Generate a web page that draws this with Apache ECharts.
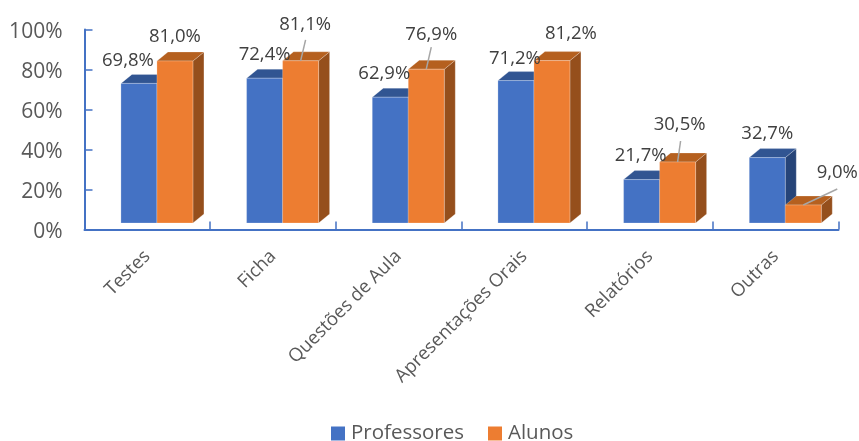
<!DOCTYPE html>
<html lang="pt">
<head>
<meta charset="UTF-8">
<title>Professores e Alunos</title>
<script src="https://cdn.jsdelivr.net/npm/echarts@6/dist/echarts.min.js"></script>
<style>
  html, body { margin: 0; padding: 0; background: #fff; }
  #main { width: 859px; height: 441px; }
</style>
</head>
<body>
<div id="main"></div>
<script>
var categories = ['Testes', 'Ficha', 'Questões de Aula', 'Apresentações Orais', 'Relatórios', 'Outras'];
var professores = [69.8, 72.4, 62.9, 71.2, 21.7, 32.7];
var alunos = [81.0, 81.1, 76.9, 81.2, 30.5, 9.0];
var yTicks = [0, 20, 40, 60, 80, 100];

// label position relative to the bar's top centre (moved by hand in the original)
var labelShift = [
  [[-11, -23], [0, -23], [-6, -23], [-1, -22], [-1, -24], [0, -24]],
  [[0, -24], [4.5, -36], [5, -34], [19, -27], [2, -37], [34, -32]]
];
// leader line end, same reference, null when the label has none
var leaderEnd = [
  [null, null, null, null, null, null],
  [null, [5, -21], [5, -22], null, [3, -21], [34, -16]]
];

var FONT = '"Open Sans", sans-serif';
var TEXT = '#404040';
var AXIS = '#4472C4';
var BAR_W = 36, DEPTH_X = 11, DEPTH_Y = 9, FLOOR = 6.5;

var palette = [
  { front: '#4472C4', top: '#315592', side: '#264478' },
  { front: '#ED7D31', top: '#B5601F', side: '#954F1C' }
];

function renderBar(s) {
  return function (params, api) {
    var i = api.value(0);
    var v = api.value(1);
    var p = api.coord([i, v]);
    var base = api.coord([i, 0]);
    var x = p[0] - 26.4 + s * BAR_W;
    var top = p[1] - FLOOR;
    var bottom = base[1] - FLOOR;
    var c = palette[s];
    var edge = 'rgba(255,255,255,0.45)';
    var cx = x + BAR_W / 2;
    var kids = [
      { type: 'polygon', z2: 1 + s * 3, shape: { points: [[x + BAR_W, top], [x + BAR_W + DEPTH_X, top - DEPTH_Y], [x + BAR_W + DEPTH_X, bottom - DEPTH_Y], [x + BAR_W, bottom]] }, style: { fill: c.side, stroke: edge, lineWidth: 0.5 } },
      { type: 'polygon', z2: 1 + s * 3, shape: { points: [[x, top], [x + DEPTH_X, top - DEPTH_Y], [x + BAR_W + DEPTH_X, top - DEPTH_Y], [x + BAR_W, top]] }, style: { fill: c.top, stroke: edge, lineWidth: 0.5 } },
      { type: 'rect', z2: 2 + s * 3, shape: { x: x, y: top, width: BAR_W, height: bottom - top }, style: { fill: c.front, stroke: edge, lineWidth: 0.5 } }
    ];
    var end = leaderEnd[s][i];
    if (end) {
      kids.push({ type: 'line', z2: 20, shape: { x1: cx, y1: top, x2: cx + end[0], y2: top + end[1] }, style: { stroke: '#A6A6A6', lineWidth: 1.5 } });
    }
    var shift = labelShift[s][i];
    kids.push({
      type: 'text', z2: 30,
      style: {
        x: cx + shift[0], y: top + shift[1],
        text: v.toFixed(1).replace('.', ',') + '%',
        fill: TEXT, fontFamily: FONT, fontSize: 18.5,
        align: 'center', verticalAlign: 'middle'
      }
    });
    return { type: 'group', children: kids };
  };
}

function barData(values) {
  return values.map(function (v, i) { return [i, v]; });
}

var chart = echarts.init(document.getElementById('main'), null, { renderer: 'canvas' });
chart.setOption({
  animation: false,
  backgroundColor: '#fff',
  grid: { left: 84.5, top: 29.5, width: 754, height: 200, containLabel: false },
  legend: {
    left: 326, top: 418,
    icon: 'rect', itemWidth: 14, itemHeight: 14, itemGap: 24,
    textStyle: { fontFamily: FONT, fontSize: 20.5, color: '#595959', padding: [0, 0, 0, 1] },
    data: ['Professores', 'Alunos']
  },
  xAxis: {
    type: 'category', data: categories, boundaryGap: true,
    axisLine: { lineStyle: { color: AXIS, width: 2 } },
    axisTick: { show: true, inside: true, alignWithLabel: false, length: 8, lineStyle: { color: AXIS, width: 1.5 } },
    axisLabel: { rotate: 45, interval: 0, margin: 24, fontFamily: FONT, fontSize: 18.5, color: '#595959' }
  },
  yAxis: {
    type: 'value', min: 0, max: 100, interval: 20,
    splitLine: { show: false },
    axisLine: { show: true, lineStyle: { color: AXIS, width: 2 } },
    axisTick: { show: true, inside: true, length: 8, lineStyle: { color: AXIS, width: 1.5 } },
    axisLabel: {
      margin: 22,
      formatter: function (v) { return yTicks.indexOf(v) >= 0 ? '{t|' + v + '%}' : ''; },
      rich: { t: { padding: [6, 0, 0, 0], fontFamily: FONT, fontSize: 21, color: '#595959' } }
    }
  },
  series: [
    { name: 'Professores', type: 'custom', clip: false, renderItem: renderBar(0), encode: { x: 0, y: 1 }, itemStyle: { color: palette[0].front }, data: barData(professores) },
    { name: 'Alunos', type: 'custom', clip: false, renderItem: renderBar(1), encode: { x: 0, y: 1 }, itemStyle: { color: palette[1].front }, data: barData(alunos) }
  ]
});
</script>
</body>
</html>
